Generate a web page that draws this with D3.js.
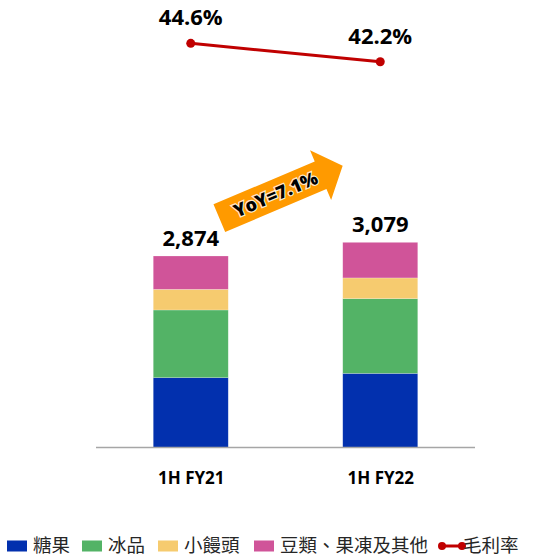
<!DOCTYPE html>
<html>
<head>
<meta charset="utf-8">
<script src="https://cdn.jsdelivr.net/npm/d3@7"></script>
<style>
  body { margin: 0; background: #fff; }
</style>
</head>
<body>
<div id="chart"></div>
<script>
// periods on the x axis
const periods = ["1H FY21", "1H FY22"];
// stacked revenue segments (bottom to top)
const seriesNames = ["糖果", "冰品", "小饅頭", "豆類、果凍及其他"];
const candy = [1048, 1112];
const iceCream = [1016, 1122];
const buns = [310, 311];
const others = [500, 534];
const totals = [2874, 3079];
// gross margin line
const marginRate = [44.6, 42.2];
const lineName = "毛利率";
const yoyLabel = "YoY=7.1%";

const colors = ["#0230AE", "#53B366", "#F6CB6F", "#D05499"];
const lineColor = "#C00000";
const numFont = "'Open Sans', Lato, sans-serif";

const width = 536;
const height = 560;

const svg = d3
  .select("#chart")
  .append("svg")
  .attr("width", width)
  .attr("height", height);

const x = d3.scalePoint().domain(periods).range([96, 475]).padding(0.5);
const barWidth = 75;

const y = d3.scaleLinear().domain([0, 3400]).range([447.5, 447.5 - 3400 * 0.06663]);
const yLine = d3.scaleLinear().domain([40, 50]).range([78.6, 1.9]);

// build stack table
const table = periods.map((p, i) => ({
  period: p,
  s0: candy[i],
  s1: iceCream[i],
  s2: buns[i],
  s3: others[i],
}));
const stacked = d3.stack().keys(["s0", "s1", "s2", "s3"])(table);

svg
  .append("g")
  .selectAll("g")
  .data(stacked)
  .enter()
  .append("g")
  .attr("fill", (d, i) => colors[i])
  .selectAll("rect")
  .data((d) => d)
  .enter()
  .append("rect")
  .attr("x", (d) => x(d.data.period) - barWidth / 2)
  .attr("y", (d) => y(d[1]))
  .attr("width", barWidth)
  .attr("height", (d) => y(d[0]) - y(d[1]))
  .attr("stroke", "#fff")
  .attr("stroke-opacity", 0.35)
  .attr("stroke-width", 0.6);

// baseline axis
const xAxis = svg
  .append("g")
  .attr("transform", "translate(0," + y(0) + ")")
  .call(d3.axisBottom(x).tickSize(0).tickPadding(24));
xAxis.select(".domain").attr("stroke", "#A6A6A6").attr("stroke-width", 1.5).attr("d", "M96,0H475");
xAxis
  .selectAll("text")
  .attr("font-family", numFont)
  .attr("font-weight", "bold")
  .attr("font-size", "17px")
  .attr("fill", "#000");

// total labels
svg
  .append("g")
  .selectAll("text")
  .data(totals)
  .enter()
  .append("text")
  .attr("x", (d, i) => x(periods[i]))
  .attr("y", (d) => y(d) - 10)
  .attr("text-anchor", "middle")
  .attr("font-family", numFont)
  .attr("font-weight", "bold")
  .attr("font-size", "22px")
  .attr("fill", "#000")
  .text((d) => d3.format(",")(d));

// margin line
const line = d3
  .line()
  .x((d, i) => x(periods[i]))
  .y((d) => yLine(d));

svg
  .append("path")
  .datum(marginRate)
  .attr("d", line)
  .attr("fill", "none")
  .attr("stroke", lineColor)
  .attr("stroke-width", 3);

svg
  .append("g")
  .selectAll("circle")
  .data(marginRate)
  .enter()
  .append("circle")
  .attr("cx", (d, i) => x(periods[i]))
  .attr("cy", (d) => yLine(d))
  .attr("r", 4.5)
  .attr("fill", lineColor);

svg
  .append("g")
  .selectAll("text")
  .data(marginRate)
  .enter()
  .append("text")
  .attr("x", (d, i) => x(periods[i]))
  .attr("y", (d) => yLine(d) - 18)
  .attr("text-anchor", "middle")
  .attr("font-family", numFont)
  .attr("font-weight", "bold")
  .attr("font-size", "22px")
  .attr("fill", "#000")
  .text((d) => d.toFixed(1) + "%");

// YoY arrow
const arrow = svg
  .append("g")
  .attr("transform", "translate(281,192) rotate(-23)");

const half = 67;
const body = 15;
const headW = 27;
const headL = 24;
arrow
  .append("path")
  .attr(
    "d",
    `M${-half},${-body} L${half - headL},${-body} L${half - headL},${-headW} L${half},0 ` +
      `L${half - headL},${headW} L${half - headL},${body} L${-half},${body} Z`
  )
  .attr("fill", "#FF9A00");

arrow
  .append("text")
  .attr("x", -6)
  .attr("y", 6.5)
  .attr("text-anchor", "middle")
  .attr("font-family", numFont)
  .attr("font-weight", "800")
  .attr("font-size", "18px")
  .attr("fill", "#000")
  .attr("stroke", "#fff")
  .attr("stroke-width", 2.5)
  .attr("stroke-opacity", 0.8)
  .attr("paint-order", "stroke")
  .text(yoyLabel);

// legend
const legend = svg.append("g").attr("transform", "translate(0,546)");
const legendFont = "'Noto Sans CJK TC', 'Noto Sans CJK SC', sans-serif";
const legendX = [7, 82, 158, 254];

seriesNames.forEach((name, i) => {
  legend
    .append("rect")
    .attr("x", legendX[i])
    .attr("y", -5.5)
    .attr("width", 20)
    .attr("height", 11)
    .attr("fill", colors[i]);
  legend
    .append("text")
    .attr("x", legendX[i] + 26)
    .attr("y", 0)
    .attr("dy", "0.35em")
    .attr("font-family", legendFont)
    .attr("font-size", "18.5px")
    .attr("fill", "#262626")
    .text(name);
});

legend
  .append("line")
  .attr("x1", 442)
  .attr("x2", 462)
  .attr("y1", 0)
  .attr("y2", 0)
  .attr("stroke", lineColor)
  .attr("stroke-width", 3);
legend
  .selectAll("circle")
  .data([442, 462])
  .enter()
  .append("circle")
  .attr("cx", (d) => d)
  .attr("cy", 0)
  .attr("r", 4)
  .attr("fill", lineColor);
legend
  .append("text")
  .attr("x", 463)
  .attr("y", 0)
  .attr("dy", "0.35em")
  .attr("font-family", legendFont)
  .attr("font-size", "18.5px")
  .attr("fill", "#262626")
  .text(lineName);
</script>
</body>
</html>
